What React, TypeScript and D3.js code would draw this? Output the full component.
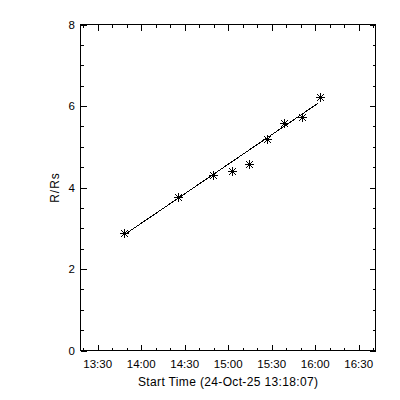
import React from "react";
import * as d3 from "d3";

// ---- data ----
const obsTimes = ["13:48:08", "14:25:36", "14:49:42", "15:02:24", "15:14:36", "15:26:36", "15:38:42", "15:50:42", "16:03:18"];
const obsHeights = [2.88, 3.76, 4.30, 4.40, 4.57, 5.19, 5.59, 5.74, 6.21];
const fitTimes = ["13:50:24", "16:02:06"];
const fitHeights = [2.89, 6.07];
const xTickLabels = ["13:30", "14:00", "14:30", "15:00", "15:30", "16:00", "16:30"];
const yTickLabels = ["0", "2", "4", "6", "8"];
const xRange = ["13:18:07", "16:41:36"];
const yRange = [0, 8];
const xTitle = "Start Time (24-Oct-25 13:18:07)";
const yTitle = "R/Rs";

const toDate = (s: string) => {
  const [h, m, sec] = s.split(":").map(Number);
  return new Date(2025, 9, 24, h, m, sec || 0);
};

export default function App() {
  const W = 400, H = 400;
  const left = 80.5, right = 375.5, top = 24.5, bottom = 350.5;
  const x = d3.scaleTime().domain(xRange.map(toDate)).range([left, right]);
  const y = d3.scaleLinear().domain(yRange).range([bottom, top]);

  const majorX = xTickLabels.map(toDate);
  const minorX = d3.timeMinute.every(10)!.range(x.domain()[0], x.domain()[1]).filter(
    (d) => !majorX.some((m) => m.getTime() === d.getTime())
  );
  const majorY = yTickLabels.map(Number);
  const minorY = d3.range(yRange[0], yRange[1] + 0.001, 0.5).filter((v) => !majorY.includes(v));

  const font = "'Liberation Sans', Arial, sans-serif";
  const line = d3
    .line<[Date, number]>()
    .x((d) => x(d[0]))
    .y((d) => y(d[1]));
  const fitData: [Date, number][] = fitTimes.map((t, i) => [toDate(t), fitHeights[i]]);

  const majLen = 6, minLen = 3;

  return (
    <svg width={W} height={H} style={{ position: "absolute", left: 0, top: 0, background: "#fff" }}>
      <rect x={0} y={0} width={W} height={H} fill="#fff" />
      <g stroke="#000" strokeWidth={1} shapeRendering="crispEdges" fill="none">
        <rect x={left} y={top} width={right - left} height={bottom - top} />
        {majorX.map((d, i) => (
          <g key={"mx" + i}>
            <line x1={Math.round(x(d)) + 0.5} x2={Math.round(x(d)) + 0.5} y1={bottom} y2={bottom - majLen} />
            <line x1={Math.round(x(d)) + 0.5} x2={Math.round(x(d)) + 0.5} y1={top} y2={top + majLen} />
          </g>
        ))}
        {minorX.map((d, i) => (
          <g key={"nx" + i}>
            <line x1={Math.round(x(d)) + 0.5} x2={Math.round(x(d)) + 0.5} y1={bottom} y2={bottom - minLen} />
            <line x1={Math.round(x(d)) + 0.5} x2={Math.round(x(d)) + 0.5} y1={top} y2={top + minLen} />
          </g>
        ))}
        {majorY.map((v, i) => (
          <g key={"my" + i}>
            <line x1={left} x2={left + majLen} y1={Math.round(y(v)) + 0.5} y2={Math.round(y(v)) + 0.5} />
            <line x1={right} x2={right - majLen} y1={Math.round(y(v)) + 0.5} y2={Math.round(y(v)) + 0.5} />
          </g>
        ))}
        {minorY.map((v, i) => (
          <g key={"ny" + i}>
            <line x1={left} x2={left + minLen} y1={Math.round(y(v)) + 0.5} y2={Math.round(y(v)) + 0.5} />
            <line x1={right} x2={right - minLen} y1={Math.round(y(v)) + 0.5} y2={Math.round(y(v)) + 0.5} />
          </g>
        ))}
      </g>
      <path d={line(fitData) || ""} stroke="#000" strokeWidth={1} fill="none" shapeRendering="crispEdges" />
      <g stroke="#000" strokeWidth={1} fill="none" shapeRendering="crispEdges">
        {obsTimes.map((t, i) => {
          const cx = Math.round(x(toDate(t))) + 0.5;
          const cy = Math.round(y(obsHeights[i])) + 0.5;
          return (
            <g key={"s" + i} transform={`translate(${cx},${cy})`}>
              <line x1={-4.5} x2={4.5} y1={0} y2={0} />
              <line x1={0} x2={0} y1={-4.5} y2={4.5} />
              <line x1={-3.5} x2={3.5} y1={-3.5} y2={3.5} />
              <line x1={-3.5} x2={3.5} y1={3.5} y2={-3.5} />
              <rect x={-1} y={-1} width={2} height={2} fill="#000" stroke="none" />
            </g>
          );
        })}
      </g>
      <g fontFamily={font} fontSize={11.5} fill="#000">
        {majorX.map((d, i) => (
          <text key={"lx" + i} x={x(d)} y={368} textAnchor="middle">
            {xTickLabels[i]}
          </text>
        ))}
        {majorY.map((v, i) => (
          <text key={"ly" + i} x={75} y={y(v) + 4} textAnchor="end">
            {yTickLabels[i]}
          </text>
        ))}
        <text x={(left + right) / 2} y={386} textAnchor="middle" fontSize={12} textLength={180} lengthAdjust="spacing">
          {xTitle}
        </text>
        <text
          transform={`translate(59,${(top + bottom) / 2}) rotate(-90)`}
          textAnchor="middle"
          fontSize={12}
          letterSpacing={1}
        >
          {yTitle}
        </text>
      </g>
    </svg>
  );
}
